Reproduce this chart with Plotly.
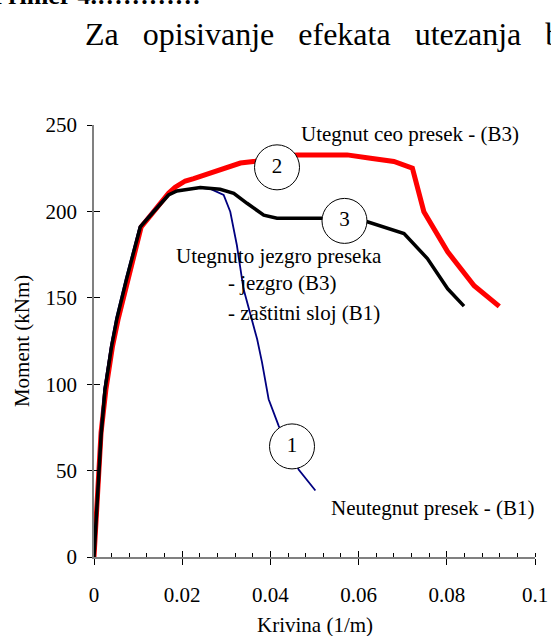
import plotly.graph_objects as go

# Curve 1: Neutegnut presek - (B1)
x1 = [0, 0.0008, 0.0015, 0.0023, 0.0038, 0.0050, 0.0072, 0.0103, 0.0133, 0.0167, 0.0186, 0.0205,
      0.0240, 0.0264, 0.0294, 0.0309, 0.0324, 0.0339, 0.0357, 0.0370, 0.0381, 0.0389, 0.0396,
      0.0419, 0.0449, 0.0464, 0.0502]
y1 = [0, 40, 72, 97, 122, 138, 161, 191, 200, 209.5, 211.8, 212.4,
      213.6, 213.0, 209.5, 199.8, 180.4, 155.2, 137.8, 126, 112.6, 100, 91.3,
      75.8, 60, 50.6, 38.5]

# Curve 2: Utegnut ceo presek - (B3)
x2 = [0, 0.0010, 0.0016, 0.0027, 0.0042, 0.0055, 0.0077, 0.0107, 0.0139, 0.0169, 0.0184, 0.0207,
      0.0226, 0.0294, 0.0332, 0.0366, 0.0400, 0.0460, 0.0574, 0.0627, 0.0680, 0.0722, 0.0748,
      0.0802, 0.0862, 0.0919]
y2 = [0, 48, 72, 97, 122, 138, 161, 191, 201, 210.5, 214, 217.6,
      219, 225, 228, 229, 231, 232.7, 232.7, 230.8, 228.9, 225, 199.8,
      176.6, 157, 145]

# Curve 3: Utegnuto jezgro preseka
x3 = [0, 0.0008, 0.0016, 0.0025, 0.0040, 0.0052, 0.0074, 0.0105, 0.0135, 0.0169, 0.0188, 0.0207,
      0.0241, 0.0286, 0.0317, 0.0347, 0.0385, 0.0415, 0.0517, 0.0620, 0.0703, 0.0756, 0.0802, 0.0839]
y3 = [0, 37, 70, 97, 122, 138, 161, 191, 199.8, 209.5, 211.8, 212.4,
      213.8, 212.8, 210.5, 204.7, 197.8, 196, 196, 194, 187.2, 172.7, 155.2, 145.2]

# Circle markers with curve numbers
circle_labels = ["1", "2", "3"]
circle_x = [0.0449, 0.0415, 0.0568]
circle_y = [64, 225.5, 194.5]

# Text labels
label_texts = ["Utegnut ceo presek - (B3)", "Utegnuto jezgro preseka", "- jezgro (B3)",
               "- zaštitni sloj (B1)", "Neutegnut presek - (B1)"]
label_x = [0.0464, 0.0181, 0.0300, 0.0300, 0.0533]
label_y = [244.8, 174.2, 158.6, 141.4, 28.4]

x_tickvals = [0, 0.02, 0.04, 0.06, 0.08, 0.1]
x_ticktext = ["0", "0.02", "0.04", "0.06", "0.08", "0.1"]
y_tickvals = [0, 50, 100, 150, 200, 250]

FONT = "Liberation Serif"

fig = go.Figure()
fig.add_trace(go.Scatter(x=x2, y=y2, mode="lines", line=dict(color="#ff0000", width=5), showlegend=False))
fig.add_trace(go.Scatter(x=x1, y=y1, mode="lines", line=dict(color="#000080", width=1.8), showlegend=False))
fig.add_trace(go.Scatter(x=x3, y=y3, mode="lines", line=dict(color="#000000", width=3.5), showlegend=False))
fig.add_trace(go.Scatter(x=circle_x, y=circle_y, mode="markers+text", text=circle_labels,
                         textposition="middle center",
                         textfont=dict(family=FONT, size=21, color="black"),
                         marker=dict(size=45, color="white", line=dict(color="black", width=1)),
                         showlegend=False, cliponaxis=False))
# empty trace to create overlay axes for the inner half of crossing ticks
fig.add_trace(go.Scatter(x=[], y=[], xaxis="x2", yaxis="y2", showlegend=False))

for t, xx, yy in zip(label_texts, label_x, label_y):
    fig.add_annotation(x=xx, y=yy, text=t, showarrow=False, xanchor="left", yanchor="middle",
                       font=dict(family=FONT, size=21, color="black"))

fig.add_annotation(xref="paper", yref="paper", x=0.5, y=-0.157, text="Krivina (1/m)", showarrow=False,
                   xanchor="center", yanchor="middle", font=dict(family=FONT, size=21, color="black"))
fig.add_annotation(xref="paper", yref="paper", x=-0.163, y=0.5, text="Moment (kNm)", showarrow=False,
                   textangle=-90, xanchor="center", yanchor="middle", font=dict(family=FONT, size=21, color="black"))

# document text above the chart
GAP = "\u2002 "
fig.add_annotation(xref="paper", yref="paper", x=-0.026, y=1.2106,
                   text="Za" + GAP + "opisivanje" + GAP + "efekata" + GAP + "utezanja" + GAP + "b",
                   showarrow=False, xanchor="left", yanchor="middle",
                   font=dict(family=FONT, size=32, color="black"))
fig.add_annotation(xref="paper", yref="paper", x=-0.235, y=1.30,
                   text="<b>Primer 4.::::::::::::</b>", showarrow=False,
                   xanchor="left", yanchor="middle", font=dict(family=FONT, size=26, color="black"))

fig.update_layout(
    width=551, height=636,
    margin=dict(l=94, r=16, t=125, b=79, autoexpand=False),
    paper_bgcolor="white", plot_bgcolor="white",
    font=dict(family=FONT, size=21, color="black"),
    xaxis=dict(range=[0, 0.1], tickvals=x_tickvals, ticktext=x_ticktext, ticks="outside", ticklen=6,
               tickcolor="black", tickwidth=1, showline=True, linecolor="#808080", linewidth=1.5,
               showgrid=False, zeroline=False, ticklabelstandoff=12, automargin=False,
               minor=dict(ticks="inside", dtick=0.004, ticklen=4, tickcolor="black", tickwidth=1, showgrid=False),
               tickfont=dict(family=FONT, size=21)),
    yaxis=dict(range=[0, 250], tickvals=y_tickvals, ticks="outside", ticklen=5, tickcolor="black", tickwidth=1,
               showline=True, linecolor="#808080", linewidth=1.5, showgrid=False, zeroline=False,
               ticklabelstandoff=6, automargin=False, tickfont=dict(family=FONT, size=21)),
    xaxis2=dict(range=[0, 0.1], overlaying="x", tickvals=x_tickvals, ticks="inside", ticklen=6,
                tickcolor="black", tickwidth=1, showticklabels=False, showline=False, showgrid=False,
                zeroline=False, side="bottom", automargin=False),
    yaxis2=dict(range=[0, 250], overlaying="y", tickvals=y_tickvals, ticks="inside", ticklen=6,
                tickcolor="black", tickwidth=1, showticklabels=False, showline=False, showgrid=False,
                zeroline=False, side="left", automargin=False),
)

fig.write_html("out.html")
